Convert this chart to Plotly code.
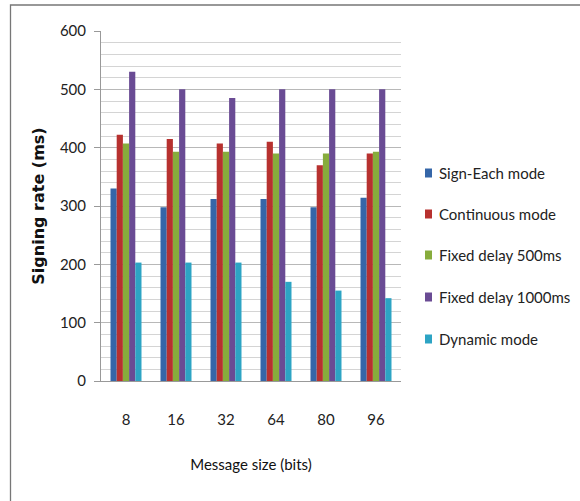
import plotly.graph_objects as go

categories = ["8", "16", "32", "64", "80", "96"]
series_names = ["Sign-Each mode", "Continuous mode", "Fixed delay 500ms", "Fixed delay 1000ms", "Dynamic mode"]
sign_each = [330, 298, 312, 312, 298, 314]
continuous = [422, 415, 407, 410, 370, 390]
fixed_500 = [407, 393, 393, 390, 390, 393]
fixed_1000 = [530, 500, 485, 500, 500, 500]
dynamic = [203, 203, 203, 170, 155, 142]
y_ticks = [0, 100, 200, 300, 400, 500, 600]

colors = ["#3566A8", "#B7312F", "#87AC3C", "#6A4B94", "#2DA4C4"]
FONT = "Lato, Liberation Sans Narrow, sans-serif"

W, H = 580, 501
L, R, T, B = 101, 179, 31, 120
PW, PH = W - L - R, H - T - B


def px_x(p):
    return (p - L) / PW


def px_y(p):
    return (H - B - p) / PH


fig = go.Figure()
for i, (name, vals) in enumerate(zip(series_names, [sign_each, continuous, fixed_500, fixed_1000, dynamic])):
    fig.add_trace(go.Bar(
        x=categories, y=vals, name=name, showlegend=False,
        marker=dict(color=colors[i], line=dict(width=0)),
    ))

# manual legend (squares + labels)
shapes = []
annotations = []
legend_rows = [173, 214, 255, 297, 339]
for i, name in enumerate(series_names):
    cy = legend_rows[i]
    shapes.append(dict(type="rect", xref="paper", yref="paper",
                       x0=px_x(425), x1=px_x(432), y0=px_y(cy + 4.5), y1=px_y(cy - 4.5),
                       fillcolor=colors[i], line=dict(width=0)))
    annotations.append(dict(xref="paper", yref="paper", x=px_x(437), y=px_y(cy),
                            xanchor="left", yanchor="middle", showarrow=False, text=name,
                            font=dict(family=FONT, size=15, color="#222")))

# outer chart border (extends beyond right/bottom edges like the reference)
shapes.append(dict(type="rect", xref="paper", yref="paper",
                   x0=px_x(10.5), x1=px_x(620), y0=px_y(540), y1=px_y(5),
                   line=dict(color="#777", width=1.3), fillcolor="rgba(0,0,0,0)", layer="below"))

fig.update_layout(
    width=W, height=H,
    margin=dict(l=L, r=R, t=T, b=B, autoexpand=False),
    paper_bgcolor="white", plot_bgcolor="white",
    barmode="group", bargap=0.38, bargroupgap=0,
    font=dict(family=FONT, size=15, color="#222"),
    showlegend=False,
    xaxis=dict(type="category", showline=True, linecolor="#999", linewidth=1,
               ticks="", ticklabelstandoff=25,
               title=dict(text="Message size (bits)", standoff=32,
                          font=dict(family=FONT, size=15, color="#111"))),
    yaxis=dict(range=[0, 600], tickvals=y_ticks, showline=True, linecolor="#999", linewidth=1,
               ticks="outside", ticklen=6, tickcolor="#999", ticklabelstandoff=5,
               showgrid=True, gridcolor="#b8b8b8", gridwidth=1, zeroline=False,
               minor=dict(dtick=20, showgrid=True, gridcolor="#d4d4d4", ticks=""),
               title=dict(text="<b>Signing rate (ms)</b>", standoff=11,
                          font=dict(family="DejaVu Sans, sans-serif", size=16, color="#111"))),
    shapes=shapes,
    annotations=annotations,
)

fig.write_html("out.html", config={"displayModeBar": False},
               post_script="document.body.style.margin='0';")
